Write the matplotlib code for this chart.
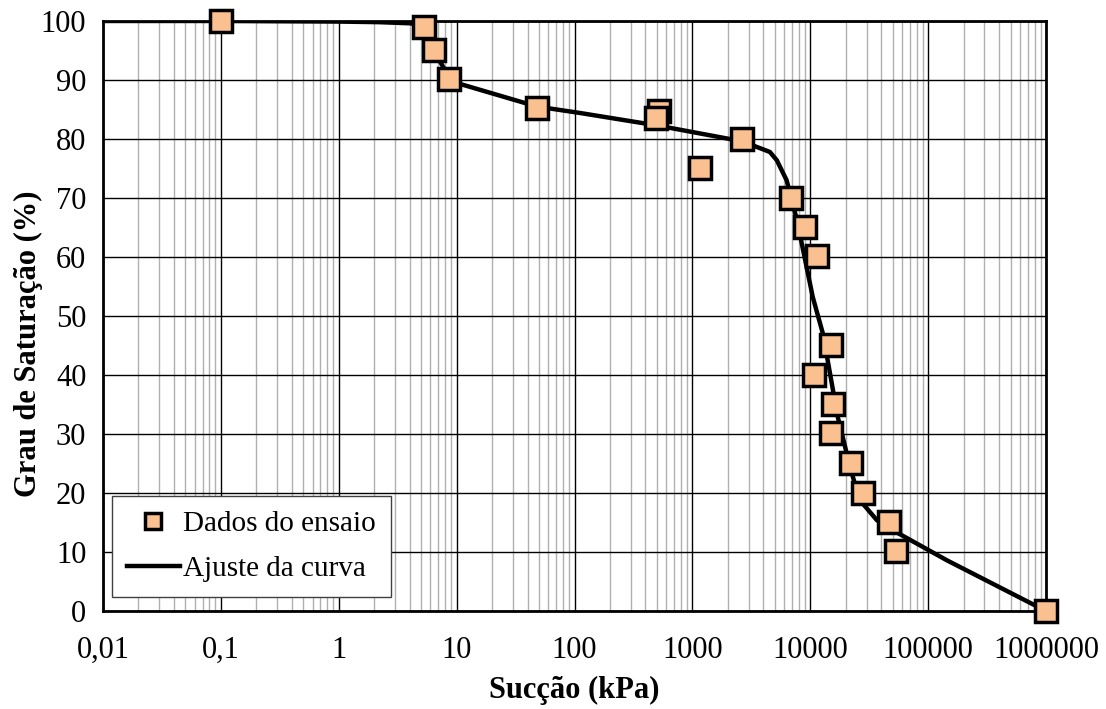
import matplotlib
matplotlib.use('Agg')
import matplotlib.pyplot as plt
import matplotlib.ticker as mticker
import numpy as np

# measured points (suction kPa, saturation %)
suc_data = [0.1, 5.3, 6.4, 8.6, 48, 520, 490, 1150, 2650, 6800, 9000, 11500,
            15000, 10700, 15500, 15000, 22300, 27900, 46500, 53000, 1000000]
sat_data = [100, 99, 95, 90.2, 85.3, 84.8, 83.6, 75.1, 80, 70, 65, 60.2,
            45.1, 40, 35.1, 30.2, 25.1, 20, 15.1, 10.2, 0]

# fitted curve
suc_fit = [0.01, 0.1, 1, 2.2, 4.1, 5.3, 6.4, 8.6, 10, 16, 48, 112, 500, 2650,
           4540, 5200, 6300, 7700, 10500, 12800, 17100, 22000, 26300, 36700,
           47000, 144000, 1000000]
sat_fit = [100, 100, 99.9, 99.8, 99.6, 99, 95, 90.5, 89.5, 88.3, 85.5, 84.4,
           82.3, 79.6, 77.8, 76.4, 73, 66.3, 53.2, 47, 32.9, 24, 18.8, 15.4,
           14, 8.6, 0]

plt.rcParams['font.family'] = ['Liberation Serif', 'DejaVu Serif']

fig = plt.figure(figsize=(11.06, 7.09), dpi=100)
ax = fig.add_axes([0.0931, 0.1382, 0.8527, 0.8322])

ax.plot(suc_data, sat_data, 's', ms=15.5, mfc='#FAC090', mec='black', mew=2.5,
        label='Dados do ensaio', zorder=4, clip_on=False)
ax.plot(suc_fit, sat_fit, '-', color='black', lw=3.2, label='Ajuste da curva', zorder=3)

ax.set_xscale('log')
ax.set_xlim(0.01, 1000000)
ax.set_ylim(0, 100)
ax.set_yticks(range(0, 101, 10))
ax.xaxis.set_minor_locator(mticker.LogLocator(base=10, subs=np.arange(2, 10), numticks=20))
xt = [0.01, 0.1, 1, 10, 100, 1000, 10000, 100000, 1000000]
ax.set_xticks(xt)
ax.set_xticklabels(['0,01', '0,1', '1', '10', '100', '1000', '10000', '100000', '1000000'])
ax.xaxis.set_minor_formatter(mticker.NullFormatter())

ax.grid(True, which='major', color='black', lw=1.0)
ax.grid(True, which='minor', axis='x', color='#b0b0b0', lw=1.0)
ax.set_axisbelow(True)

ax.tick_params(axis='both', which='major', labelsize=22, length=0)
ax.tick_params(axis='y', pad=12)
ax.tick_params(axis='x', pad=18)
ax.tick_params(axis='both', which='minor', length=0)
for s in ax.spines.values():
    s.set_linewidth(2)

ax.set_xlabel('Sucção (kPa)', fontsize=22, fontweight='bold', labelpad=8)
ax.set_ylabel('Grau de Saturação (%)', fontsize=22, fontweight='bold')
ax.yaxis.set_label_coords(-0.064, 0.4525)

leg = ax.legend(loc='lower left', bbox_to_anchor=(0.0095, 0.0237), borderaxespad=0,
                fontsize=21, frameon=True, fancybox=False, edgecolor='#404040',
                framealpha=1, handlelength=1.85, handletextpad=0.1, borderpad=0.5,
                labelspacing=0.65, markerscale=0.75)
leg.get_frame().set_linewidth(1)

plt.savefig('out.png', dpi=100)
plt.close(fig)
